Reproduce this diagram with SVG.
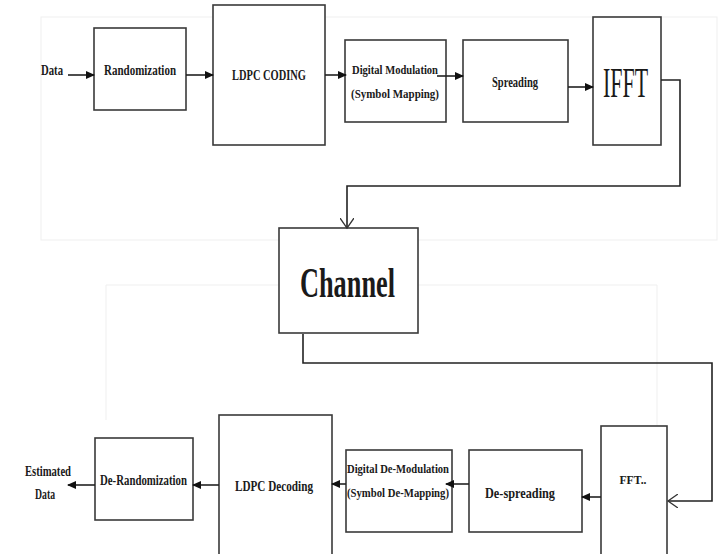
<svg xmlns="http://www.w3.org/2000/svg" width="718" height="554" viewBox="0 0 718 554">
  <style>
    .box { fill: #ffffff; stroke: #3a3a3a; stroke-width: 1.6; }
    .t { font-family: "Liberation Serif", "Times New Roman", serif; font-weight: bold; fill: #1a1a1a; text-anchor: middle; font-size: 15px; }
    .s { font-size: 13.5px; }
    .c { fill: none; stroke: #222222; stroke-width: 1.6; }
    .faint { fill: none; stroke: #efefef; stroke-width: 1; }
  </style>
  <defs>
    <marker id="solid" markerUnits="userSpaceOnUse" markerWidth="9" markerHeight="8" refX="8" refY="4" orient="auto">
      <path d="M0,0 L9,4 L0,8 z" fill="#111111"/>
    </marker>
    <marker id="open" markerUnits="userSpaceOnUse" markerWidth="12" markerHeight="14" refX="10" refY="7" orient="auto">
      <path d="M0,0 L10,7 L0,14" fill="none" stroke="#333333" stroke-width="1.3"/>
    </marker>
  </defs>
  <rect width="718" height="554" fill="#ffffff"/>
  <g id="background-frames">
    <rect class="faint" x="41" y="17" width="676" height="223"/>
    <path class="faint" d="M106,420 V285 H657 V530"/>
  </g>

  <g id="data-in">
    <text class="t" x="52" y="75" textLength="22" lengthAdjust="spacingAndGlyphs">Data</text>
  </g>
  <g id="randomization">
    <rect class="box" x="94" y="28" width="92" height="82"/>
    <text class="t" x="140" y="75" textLength="72" lengthAdjust="spacingAndGlyphs">Randomization</text>
  </g>
  <g id="ldpc-coding">
    <rect class="box" x="213" y="5" width="112" height="140"/>
    <text class="t" x="269" y="80" textLength="74" lengthAdjust="spacingAndGlyphs">LDPC CODING</text>
  </g>
  <g id="digital-modulation">
    <rect class="box" x="345" y="40" width="101" height="82"/>
    <text class="t s" x="395" y="74" textLength="86" lengthAdjust="spacingAndGlyphs">Digital Modulation</text>
    <text class="t s" x="395" y="98" textLength="88" lengthAdjust="spacingAndGlyphs">(Symbol Mapping)</text>
  </g>
  <g id="spreading">
    <rect class="box" x="463" y="40" width="105" height="82"/>
    <text class="t" x="515" y="87" textLength="46" lengthAdjust="spacingAndGlyphs">Spreading</text>
  </g>
  <g id="ifft">
    <rect class="box" x="593" y="17" width="68" height="128"/>
    <text class="t" x="625.5" y="97" style="font-weight:normal;font-size:42px" textLength="45" lengthAdjust="spacingAndGlyphs">IFFT</text>
  </g>
  <g id="channel">
    <rect class="box" x="279" y="228" width="139" height="105"/>
    <text class="t" x="347.5" y="297" style="font-size:43px" textLength="95" lengthAdjust="spacingAndGlyphs">Channel</text>
  </g>
  <g id="fft">
    <rect class="box" x="601" y="426" width="66" height="140"/>
    <text class="t s" x="633" y="484" textLength="27" lengthAdjust="spacingAndGlyphs">FFT..</text>
  </g>
  <g id="de-spreading">
    <rect class="box" x="469" y="450" width="113" height="82"/>
    <text class="t" x="520" y="498" textLength="70" lengthAdjust="spacingAndGlyphs">De-spreading</text>
  </g>
  <g id="digital-de-modulation">
    <rect class="box" x="346" y="450" width="106" height="82"/>
    <text class="t s" x="398" y="473" textLength="102" lengthAdjust="spacingAndGlyphs">Digital De-Modulation</text>
    <text class="t s" x="398" y="497" textLength="102" lengthAdjust="spacingAndGlyphs">(Symbol De-Mapping)</text>
  </g>
  <g id="ldpc-decoding">
    <rect class="box" x="219" y="415" width="113" height="150"/>
    <text class="t" x="274" y="491" textLength="78" lengthAdjust="spacingAndGlyphs">LDPC Decoding</text>
  </g>
  <g id="de-randomization">
    <rect class="box" x="95" y="438" width="98" height="82"/>
    <text class="t" x="143.5" y="485" textLength="87" lengthAdjust="spacingAndGlyphs">De-Randomization</text>
  </g>
  <g id="estimated-data">
    <text class="t" x="48" y="476" textLength="46" lengthAdjust="spacingAndGlyphs">Estimated</text>
    <text class="t" x="45" y="499" textLength="20" lengthAdjust="spacingAndGlyphs">Data</text>
  </g>

  <g id="connectors">
    <line class="c" x1="68" y1="75" x2="94" y2="75" marker-end="url(#solid)"/>
    <line class="c" x1="186" y1="75" x2="213" y2="75" marker-end="url(#solid)"/>
    <line class="c" x1="325" y1="75" x2="346" y2="75" marker-end="url(#solid)"/>
    <line class="c" x1="437" y1="76" x2="463" y2="76" marker-end="url(#solid)"/>
    <line class="c" x1="568" y1="87" x2="593" y2="87" marker-end="url(#solid)"/>
    <path class="c" d="M661,80 H680 V186 H347 V228" marker-end="url(#open)"/>
    <path class="c" d="M303,334 V363 H712 V501 H668" marker-end="url(#open)"/>
    <line class="c" x1="601" y1="497" x2="582" y2="497" marker-end="url(#solid)"/>
    <line class="c" x1="469" y1="484" x2="446" y2="484" marker-end="url(#solid)"/>
    <line class="c" x1="346" y1="484" x2="332" y2="484" marker-end="url(#solid)"/>
    <line class="c" x1="219" y1="485" x2="193" y2="485" marker-end="url(#solid)"/>
    <line class="c" x1="95" y1="485" x2="68" y2="485" marker-end="url(#solid)"/>
  </g>
</svg>
